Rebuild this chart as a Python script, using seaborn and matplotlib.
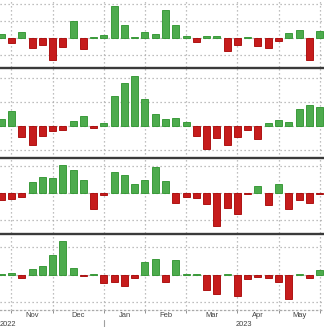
import numpy as np
import pandas as pd
import matplotlib
matplotlib.use("Agg")
import matplotlib.pyplot as plt
from matplotlib.lines import Line2D
import seaborn as sns

# ---- data (weekly values, one list per panel) ----
weeks = list(range(32))
panel1 = [0.18, -0.33, 0.31, -0.61, -0.43, -1.31, -0.57, 0.96, -0.67, 0.03,
          0.14, 1.84, 0.76, 0.03, 0.35, 0.18, 1.60, 0.73, 0.06, -0.24,
          0.10, 0.07, -0.80, -0.43, 0.02, -0.51, -0.59, -0.18, 0.24, 0.45,
          -1.35, 0.37]
panel2 = [0.31, 0.63, -0.46, -0.80, -0.43, -0.21, -0.18, 0.20, 0.42, -0.08,
          0.13, 1.25, 1.79, 2.10, 1.13, 0.52, 0.31, 0.33, 0.15, -0.43,
          -0.94, -0.50, -0.80, -0.46, -0.18, -0.55, 0.14, 0.24, 0.18, 0.71,
          0.86, 0.79]
panel3 = [-0.27, -0.23, -0.15, 0.42, 0.59, 0.54, 1.03, 0.87, 0.48, -0.59,
          -0.06, 0.78, 0.68, 0.33, 0.50, 0.96, 0.44, -0.36, -0.16, -0.20,
          -0.39, -1.21, -0.54, -0.76, -0.05, 0.25, -0.44, 0.33, -0.59, -0.26,
          -0.38, -0.04]
panel4 = [0.04, 0.08, -0.11, 0.20, 0.34, 0.73, 1.24, 0.27, -0.05, 0.04,
          -0.29, -0.24, -0.40, -0.11, 0.46, 0.58, -0.27, 0.53, 0.03, 0.02,
          -0.53, -0.68, 0.05, -0.75, -0.15, -0.09, -0.12, -0.25, -0.87, 0.02,
          -0.12, 0.19]
month_labels = ["Nov", "Dec", "Jan", "Feb", "Mar", "Apr", "May"]
month_starts = [1, 5, 10, 14, 18, 23, 27, 31]
year_labels = ["2022", "2023"]

# ---- style ----
W, H = 324, 327
GREEN, GREEN_E = "#3dbb3d", "#2a922a"
RED, RED_E = "#e20000", "#a60000"
GRID = "#aaaaaa"
SEP = "#3a3a3a"
TXT = "#404040"

sns.set_theme(style="white")
plt.rcParams["font.family"] = ["Liberation Sans", "DejaVu Sans"]

fig = plt.figure(figsize=(W / 100, H / 100), dpi=100)
fig.patch.set_facecolor("white")

bounds = [(0, 67), (67, 158), (158, 233), (233, 310)]   # pixel top/bottom
ylims = [(-1.735, 2.206), (-1.333, 2.458), (-1.48, 1.296), (-1.273, 1.527)]
yticks = [[-1, 0, 1, 2], [-1, 0, 1, 2], [-1, 0, 1], [-1, 0, 1]]
xlim = (-0.117, 31.43)
panels = [panel1, panel2, panel3, panel4]
dots = (0, (1.0, 2.2))

for k, (vals, (top, bot)) in enumerate(zip(panels, bounds)):
    ax = fig.add_axes([0, 1 - bot / H, 1, (bot - top) / H])
    ax.set_facecolor("none")
    df = pd.DataFrame({"week": weeks, "value": vals})
    df["sign"] = np.where(df["value"] >= 0, "up", "down")
    sns.barplot(data=df, x="week", y="value", hue="sign",
                palette={"up": GREEN, "down": RED}, order=weeks,
                dodge=False, width=0.68, legend=False, ax=ax, zorder=3)
    for p in ax.patches:
        fc = p.get_facecolor()
        p.set_edgecolor(GREEN_E if fc[1] > fc[0] else RED_E)
        p.set_linewidth(0.6)
    ax.set_xlim(*xlim)
    ax.set_ylim(*ylims[k])
    ax.set_yticks(yticks[k])
    ax.set_xticks(month_starts)
    ax.set_axisbelow(True)
    ax.xaxis.grid(True, which="major", color=GRID, linestyle=dots, linewidth=0.9)
    ax.yaxis.grid(True, which="major", color=GRID, linestyle=dots, linewidth=0.9)
    ax.set_xlabel("")
    ax.set_ylabel("")
    ax.tick_params(axis="y", left=False, labelleft=False)
    for s in ax.spines.values():
        s.set_visible(False)
    if k < 3:
        ax.tick_params(axis="x", bottom=False, labelbottom=False)
    else:
        centers = [(a + b) / 2 for a, b in zip(month_starts[:-1], month_starts[1:])]
        ax.set_xticks(centers, minor=True)
        ax.set_xticklabels(month_labels, minor=True)
        ax.tick_params(axis="x", which="major", bottom=True, length=2,
                       width=0.6, color="#808080", labelbottom=False)
        ax.tick_params(axis="x", which="minor", bottom=False, length=0,
                       pad=1.2, labelsize=5.4, labelcolor=TXT)
        ax.spines["bottom"].set_visible(True)
        ax.spines["bottom"].set_linestyle(dots)
        ax.spines["bottom"].set_color(GRID)
        ax.spines["bottom"].set_linewidth(0.9)

# thick panel separators
for ypx in [67.5, 158, 233.5]:
    fig.add_artist(Line2D([0, 1], [1 - ypx / H] * 2, color=SEP, linewidth=1.7))

# year labels and year divider
fig.text(0 / W, 1 - 324 / H, year_labels[0], ha="left", va="center",
         fontsize=5.4, color=TXT)
fig.text(244 / W, 1 - 324 / H, year_labels[1], ha="center", va="center",
         fontsize=5.4, color=TXT)
xdiv = (1.2 + 10.27 * month_starts[2]) / W
fig.add_artist(Line2D([xdiv, xdiv], [1 - 320 / H, 0], color="#a0a0a0",
                      linewidth=0.8))

fig.savefig("out.png", dpi=100)
